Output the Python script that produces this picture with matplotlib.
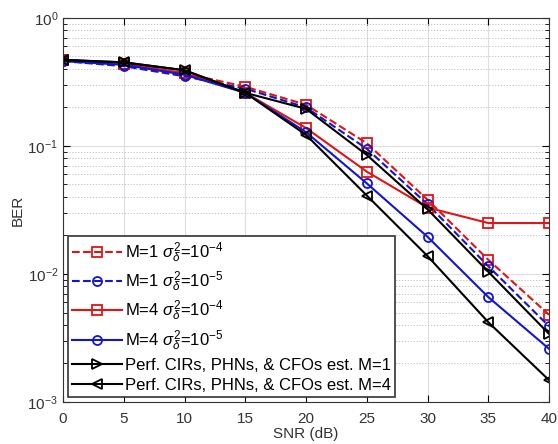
import matplotlib.pyplot as plt
import numpy as np

plt.rcParams['font.family'] = ['Liberation Sans', 'DejaVu Sans']
plt.rcParams['mathtext.fontset'] = 'custom'
plt.rcParams['mathtext.it'] = 'Liberation Sans:italic'
plt.rcParams['mathtext.rm'] = 'Liberation Sans'

snr = [0, 5, 10, 15, 20, 25, 30, 35, 40]

ber_m1_e4 = [0.47, 0.44, 0.37, 0.29, 0.21, 0.105, 0.038, 0.0129, 0.0048]
ber_m1_e5 = [0.46, 0.42, 0.35, 0.28, 0.20, 0.095, 0.035, 0.0115, 0.0039]
ber_m4_e4 = [0.47, 0.44, 0.37, 0.26, 0.138, 0.063, 0.033, 0.025, 0.025]
ber_m4_e5 = [0.46, 0.43, 0.36, 0.26, 0.128, 0.051, 0.0195, 0.0066, 0.0026]
ber_perf_m1 = [0.47, 0.45, 0.39, 0.26, 0.195, 0.085, 0.032, 0.0104, 0.0034]
ber_perf_m4 = [0.47, 0.45, 0.39, 0.26, 0.122, 0.041, 0.0138, 0.0042, 0.00148]

labels = [r'M=1 $\sigma_\delta^2$=10$^{-4}$',
          r'M=1 $\sigma_\delta^2$=10$^{-5}$',
          r'M=4 $\sigma_\delta^2$=10$^{-4}$',
          r'M=4 $\sigma_\delta^2$=10$^{-5}$',
          'Perf. CIRs, PHNs, & CFOs est. M=1',
          'Perf. CIRs, PHNs, & CFOs est. M=4']

red = '#e01515'
blue = '#1515cc'

fig = plt.figure(figsize=(5.58, 4.44), dpi=100)
ax = fig.add_axes([0.113, 0.0946, 0.871, 0.865])

style = dict(lw=1.5, ms=6.5, mfc='none', mew=1.3)
ax.semilogy(snr, ber_m1_e4, '--s', color=red, label=labels[0], **style)
ax.semilogy(snr, ber_m1_e5, '--o', color=blue, label=labels[1], **style)
ax.semilogy(snr, ber_m4_e4, '-s', color=red, label=labels[2], **style)
ax.semilogy(snr, ber_m4_e5, '-o', color=blue, label=labels[3], **style)
ax.semilogy(snr, ber_perf_m1, '->', color='black', label=labels[4], **style)
ax.semilogy(snr, ber_perf_m4, '-<', color='black', label=labels[5], **style)

ax.set_xlim(0, 40)
ax.set_ylim(1e-3, 1)
ax.set_xticks(snr)
ax.set_xlabel('SNR (dB)', fontsize=11, color='#333333', labelpad=1)
ax.set_ylabel('BER', fontsize=11, color='#333333', labelpad=2)

ax.grid(True, which='major', color='#dddddd', lw=0.8)
ax.grid(True, which='minor', color='#bbbbbb', lw=0.6, ls=(0, (1.5, 2)))
ax.tick_params(which='both', direction='in', top=True, right=True,
               labelsize=11, labelcolor='#333333')
ax.tick_params(which='major', length=5)
ax.tick_params(which='minor', length=3)
ax.tick_params(axis='x', which='major', pad=7)
for s in ax.spines.values():
    s.set_color('#333333')

leg = ax.legend(loc='lower left', fontsize=12, fancybox=False, framealpha=1,
                edgecolor='#333333', handlelength=3.0, borderaxespad=0.3,
                labelspacing=0.3, handletextpad=0.15, borderpad=0.25)
leg.get_frame().set_linewidth(1.2)

fig.savefig('out.png', dpi=100)
